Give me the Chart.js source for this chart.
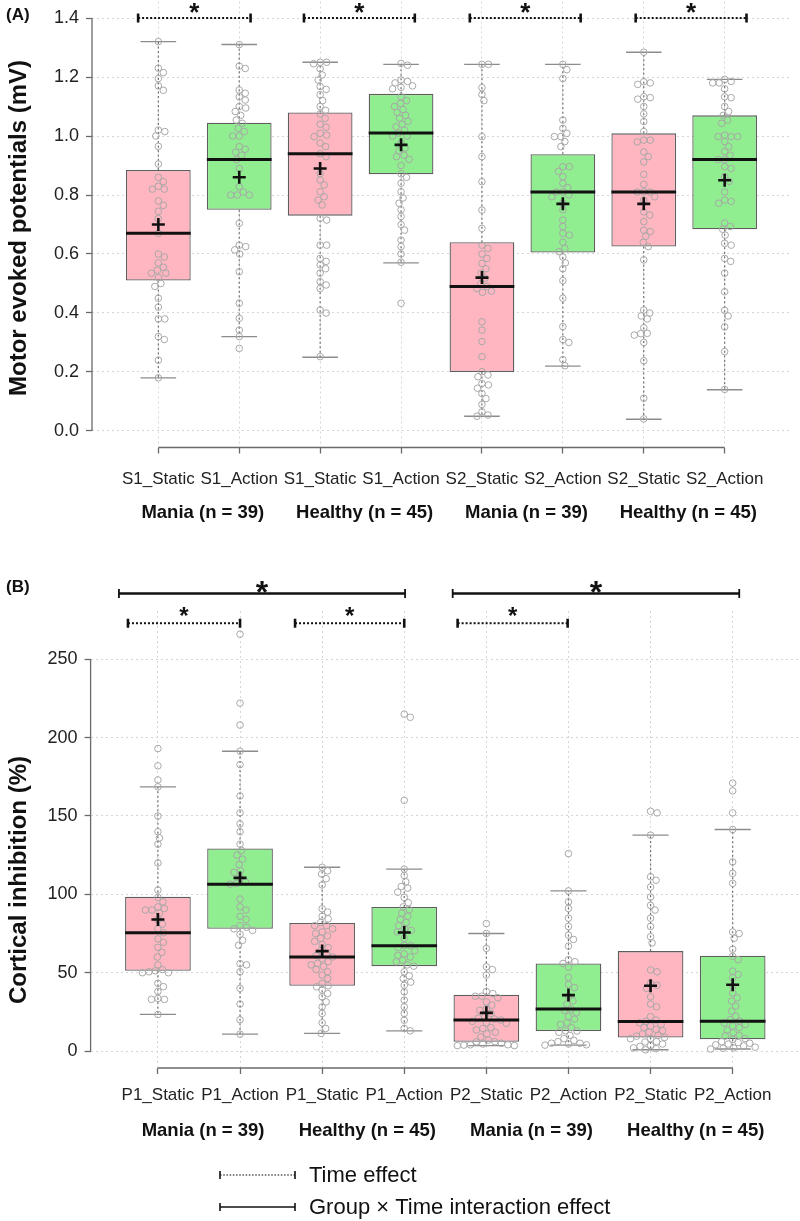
<!DOCTYPE html>
<html>
<head>
<meta charset="utf-8">
<script src="https://cdn.jsdelivr.net/npm/chart.js@4/dist/chart.umd.min.js"></script>
<style>
  html, body { margin: 0; padding: 0; background: #fff; width: 800px; height: 1221px; overflow: hidden; }
  canvas { position: absolute; left: 0; }
  #cA { top: 0; width: 800px; height: 560px; }
  #cB { top: 560px; width: 800px; height: 661px; }
</style>
</head>
<body>
<canvas id="cA" width="800" height="560"></canvas>
<canvas id="cB" width="800" height="661"></canvas>
<script>
// ---------------- Panel A : Motor evoked potentials (mV) ----------------
const mepCategories = ["S1_Static", "S1_Action", "S1_Static", "S1_Action", "S2_Static", "S2_Action", "S2_Static", "S2_Action"];
const mepGroups = ["Mania (n = 39)", "Healthy (n = 45)", "Mania (n = 39)", "Healthy (n = 45)"];
const mepLow    = [0.18, 0.32, 0.25, 0.57, 0.05, 0.22, 0.04, 0.14];
const mepQ1     = [0.51, 0.75, 0.73, 0.87, 0.20, 0.605, 0.625, 0.684];
const mepMedian = [0.67, 0.92, 0.94, 1.01, 0.49, 0.81, 0.81, 0.92];
const mepQ3     = [0.885, 1.045, 1.08, 1.143, 0.64, 0.938, 1.009, 1.07];
const mepHigh   = [1.32, 1.31, 1.25, 1.243, 1.243, 1.243, 1.284, 1.192];
const mepMean   = [0.70, 0.86, 0.89, 0.97, 0.52, 0.77, 0.77, 0.85];
const mepTicks  = [0, 0.2, 0.4, 0.6, 0.8, 1.0, 1.2, 1.4];
const mepPoints = [
  [1.32,1.23,1.215,1.195,1.17,1.155,1.02,1.015,1.0,0.965,0.905,0.86,0.845,0.83,0.82,0.82,0.78,0.765,0.745,0.72,0.67,0.60,0.59,0.57,0.555,0.545,0.535,0.535,0.52,0.50,0.49,0.45,0.42,0.38,0.38,0.32,0.31,0.24,0.18],
  [1.31,1.237,1.229,1.156,1.145,1.133,1.122,1.10,1.095,1.083,1.07,1.054,1.043,1.026,1.015,1.0,1.0,0.964,0.955,0.945,0.935,0.92,0.89,0.828,0.81,0.80,0.80,0.80,0.704,0.63,0.625,0.614,0.60,0.54,0.433,0.382,0.342,0.32,0.28],
  [1.25,1.25,1.245,1.228,1.207,1.19,1.168,1.158,1.14,1.12,1.1,1.087,1.075,1.06,1.04,1.03,1.009,1.003,0.998,0.976,0.964,0.94,0.93,0.873,0.851,0.834,0.811,0.794,0.783,0.766,0.721,0.715,0.63,0.63,0.585,0.575,0.563,0.55,0.535,0.506,0.495,0.483,0.41,0.40,0.252],
  [1.246,1.24,1.19,1.185,1.18,1.17,1.165,1.16,1.133,1.12,1.11,1.1,1.09,1.08,1.07,1.06,1.05,1.04,1.031,1.02,1.01,1.0,1.0,0.976,0.959,0.95,0.935,0.93,0.921,0.90,0.872,0.86,0.84,0.811,0.79,0.772,0.75,0.727,0.70,0.681,0.647,0.625,0.60,0.572,0.433],
  [1.243,1.243,1.164,1.141,1.12,0.998,0.93,0.845,0.749,0.687,0.63,0.619,0.6,0.585,0.568,0.55,0.535,0.518,0.5,0.49,0.483,0.474,0.47,0.37,0.342,0.303,0.252,0.201,0.19,0.184,0.161,0.156,0.145,0.127,0.11,0.09,0.065,0.054,0.05],
  [1.243,1.225,1.195,1.054,1.026,1.009,0.998,0.998,0.981,0.964,0.896,0.896,0.88,0.862,0.84,0.825,0.81,0.81,0.80,0.794,0.772,0.75,0.715,0.693,0.67,0.664,0.64,0.619,0.608,0.59,0.57,0.55,0.51,0.45,0.354,0.31,0.30,0.242,0.221],
  [1.284,1.184,1.18,1.175,1.133,1.13,1.125,1.1,1.075,1.049,1.015,0.986,0.986,0.98,0.946,0.93,0.912,0.87,0.836,0.81,0.81,0.811,0.794,0.783,0.743,0.732,0.71,0.681,0.676,0.66,0.64,0.625,0.58,0.41,0.40,0.39,0.38,0.35,0.331,0.33,0.325,0.30,0.238,0.111,0.041],
  [1.192,1.185,1.18,1.18,1.16,1.133,1.13,1.1,1.083,1.07,1.054,1.043,1.003,0.998,0.998,0.998,0.981,0.964,0.947,0.935,0.92,0.92,0.896,0.89,0.862,0.846,0.81,0.783,0.778,0.772,0.705,0.693,0.684,0.664,0.636,0.63,0.585,0.575,0.535,0.472,0.409,0.39,0.353,0.269,0.141]
];
// significance brackets: [from, to] in category units
const mepTimeEffect = [[0.75, 2.14], [2.8, 4.17], [4.85, 6.22], [6.9, 8.27]];
const mepTimeLevel = 1.4;
const mepTimeStar = 1.44;

// ---------------- Panel B : Cortical inhibition (%) ----------------
const ciCategories = ["P1_Static", "P1_Action", "P1_Static", "P1_Action", "P2_Static", "P2_Action", "P2_Static", "P2_Action"];
const ciGroups = ["Mania (n = 39)", "Healthy (n = 45)", "Mania (n = 39)", "Healthy (n = 45)"];
const ciLow    = [23.4, 10.8, 11.3, 12.9, 3.5, 3.8, 0.8, 1.3];
const ciQ1     = [51.2, 78.0, 41.7, 54.2, 5.9, 12.8, 8.7, 7.5];
const ciMedian = [75.5, 106.5, 60.1, 67.2, 19.8, 26.8, 18.9, 19.1];
const ciQ3     = [98.4, 129.3, 81.8, 92.0, 35.9, 55.9, 63.8, 60.8];
const ciHigh   = [168.6, 191.3, 117.3, 116.1, 75.0, 102.2, 137.8, 141.4];
const ciMean   = [84.0, 110.5, 63.8, 75.7, 24.4, 35.7, 41.7, 42.3];
const ciTicks  = [0, 50, 100, 150, 200, 250];
const ciPoints = [
  [193,182,173,168.6,150,140,136,132,120,102.7,98,95.2,92,91,90,90,88,84,81,78,75.5,71.6,69.4,66.2,63,60,55,52,51.2,50.6,50,50,43.2,41.1,38,33.6,33,33,23.4],
  [266,222,208,191.3,182.8,162.8,152,145,140,132,128,125,122.5,119,115,114,110.5,108,107,106.5,97,92,90,86,84,80,79,78,77,74.5,70.7,67.5,55.8,55,50.6,40,30,20,10.8],
  [117.3,115,113,110,106,90.8,88.7,86,84.4,82,80,80,78,76,75,73.5,72,70,68,66,64,62,61,60.1,59,57,56,55,54,52,50.6,48.5,46.3,43.2,41.7,41,38.9,36.7,34.6,31.4,28.2,24,18,14.4,11.3],
  [215,213,160,116.1,112,108,105,104,101.4,98,94.7,92,90.2,88,86,84,82,80,78,77,76,72,67.5,67.2,66,64,62,61,60,58,57,55,54.2,50.6,48,46.3,44,42,37.8,32.5,28.2,24,19.7,14.4,12.9],
  [81.4,75,65.5,53.8,52,48.5,38,36.7,35,35,34,31.4,29.3,27,26,24,22,21,20.5,19.8,19,18,17.7,15,14.4,13.5,12,11,9,7,6,5.9,5,4.5,4,4,3.8,3.5,3.5],
  [126,102.2,95.2,91,84.8,79.5,74,71.2,67,58.3,57,55.9,53.5,47,42.5,40.5,35,32,30,26.8,26,24.5,22,20.4,18,17,15,13,12.8,12,10,8,6.8,6,5,5,4.5,4,3.8],
  [153,152,137.8,111.2,109,104.7,98.3,93,90,84.8,79.5,73,69,51.8,50.6,43.2,42,40,34.6,30,28.2,22,19.8,19,18,17,16,15,13.9,13,12,11,10,9.5,8.7,8,7.9,6,5.8,4.5,3.6,3,2,1.5,0.8],
  [171,166,152,141.4,120.7,113.4,107,76,75,72,65,60.5,58.3,51,48.8,46.7,41.4,37.1,34,31.9,28.7,25.5,19.1,22.3,20,18,17,16,15,13.5,11.7,10,9.6,8,7.5,6,5.4,5,4.5,4,3.3,2.5,2,1.8,1.3]
];
const ciTimeEffect = [[0.635, 2.0], [2.67, 4.0], [4.65, 5.99]];
const ciTimeLevel = 273;
const ciTimeStar = 281;
const ciInteraction = [[0.525, 4.01], [4.59, 8.08]];
const ciInteractionLevel = 292;
const ciInteractionStar = 297.5;

// ---------------- styling / drawing ----------------
const FONT = '"Liberation Sans", Arial, Helvetica, sans-serif';
const PINK = '#FFB6C1';
const GREEN = '#90EE90';

function seg(ctx, x1, y1, x2, y2) {
  ctx.beginPath(); ctx.moveTo(x1, y1); ctx.lineTo(x2, y2); ctx.stroke();
}

function drawBracket(ctx, x1, x2, y, dotted, lw, capH, capW) {
  ctx.save();
  ctx.strokeStyle = '#111';
  ctx.lineWidth = lw;
  ctx.setLineDash(dotted ? [2, 2] : []);
  seg(ctx, x1, y, x2, y);
  ctx.setLineDash([]);
  ctx.lineWidth = capW;
  seg(ctx, x1, y - capH / 2, x1, y + capH / 2);
  seg(ctx, x2, y - capH / 2, x2, y + capH / 2);
  ctx.restore();
}

function drawStar(ctx, x, yc, size) {
  ctx.save();
  ctx.fillStyle = '#111';
  ctx.font = 'bold ' + size + 'px ' + FONT;
  ctx.textAlign = 'center';
  ctx.textBaseline = 'alphabetic';
  ctx.fillText('*', x, yc + 0.57 * size);
  ctx.restore();
}

function extrasPlugin(P, L) {
  return {
    id: 'boxExtras',
    afterDatasetDraw(chart, args) {
      if (args.index !== 0) return;
      const ctx = chart.ctx, xs = chart.scales.x, ys = chart.scales.y;
      ctx.save();
      P.low.forEach((lo, i) => {
        const x = xs.getPixelForValue(i + 1);
        ctx.strokeStyle = '#707070';
        ctx.lineWidth = 1.2;
        ctx.setLineDash([2, 2.5]);
        seg(ctx, x, ys.getPixelForValue(P.q3[i]), x, ys.getPixelForValue(P.high[i]));
        seg(ctx, x, ys.getPixelForValue(P.q1[i]), x, ys.getPixelForValue(lo));
        ctx.setLineDash([]);
        ctx.strokeStyle = '#8c8c8c';
        ctx.lineWidth = 1.4;
        const xa = xs.getPixelForValue(i + 1 - 0.22), xb = xs.getPixelForValue(i + 1 + 0.22);
        seg(ctx, xa, ys.getPixelForValue(P.high[i]), xb, ys.getPixelForValue(P.high[i]));
        seg(ctx, xa, ys.getPixelForValue(lo), xb, ys.getPixelForValue(lo));
      });
      ctx.restore();
    },
    afterDatasetsDraw(chart) {
      const ctx = chart.ctx, xs = chart.scales.x, ys = chart.scales.y;
      ctx.save();
      ctx.strokeStyle = '#111';
      ctx.lineWidth = 3;
      P.median.forEach((m, i) => {
        const y = ys.getPixelForValue(m);
        seg(ctx, xs.getPixelForValue(i + 1 - 0.4), y, xs.getPixelForValue(i + 1 + 0.4), y);
      });
      ctx.restore();
    },
    afterDraw(chart) {
      const ctx = chart.ctx, xs = chart.scales.x, ys = chart.scales.y, area = chart.chartArea;
      ctx.save();
      // R-style axis lines
      ctx.strokeStyle = '#6a6a6a';
      ctx.lineWidth = 1.3;
      seg(ctx, area.left, ys.getPixelForValue(P.ticks[0]), area.left, ys.getPixelForValue(P.ticks[P.ticks.length - 1]));
      seg(ctx, xs.getPixelForValue(1), area.bottom, xs.getPixelForValue(P.categories.length), area.bottom);
      // group labels
      ctx.fillStyle = '#111';
      ctx.font = 'bold 18.5px ' + FONT;
      ctx.textAlign = 'center';
      ctx.textBaseline = 'middle';
      P.groups.forEach((g, k) => {
        ctx.fillText(g, xs.getPixelForValue(2 * k + 1.55), area.bottom + L.groupDy);
      });
      // panel letter
      ctx.font = 'bold 17px ' + FONT;
      ctx.textAlign = 'left';
      ctx.fillText(L.letter, 6, L.letterY);
      // y title
      ctx.save();
      ctx.translate(L.titleX, L.titleY);
      ctx.rotate(-Math.PI / 2);
      ctx.textAlign = 'center';
      ctx.font = 'bold 24px ' + FONT;
      ctx.fillText(L.title, 0, 0);
      ctx.restore();
      // brackets
      P.brackets.forEach(b => {
        b.spans.forEach(([a, c]) => {
          const x1 = xs.getPixelForValue(a), x2 = xs.getPixelForValue(c);
          drawBracket(ctx, x1, x2, ys.getPixelForValue(b.level), b.dotted, b.dotted ? 2 : 2.4, 9, b.dotted ? 2.6 : 1.8);
          drawStar(ctx, (x1 + x2) / 2, ys.getPixelForValue(b.star), b.starSize);
        });
      });
      // legend
      if (L.legend) {
        const lx1 = 220, lx2 = 295;
        ctx.save();
        ctx.strokeStyle = '#111';
        ctx.lineWidth = 1.2;
        ctx.setLineDash([1.6, 1.6]);
        seg(ctx, lx1, L.legendY1, lx2, L.legendY1);
        ctx.setLineDash([]);
        ctx.lineWidth = 1.6;
        seg(ctx, lx1, L.legendY1 - 4, lx1, L.legendY1 + 4);
        seg(ctx, lx2, L.legendY1 - 4, lx2, L.legendY1 + 4);
        ctx.lineWidth = 1.4;
        seg(ctx, lx1, L.legendY2, lx2, L.legendY2);
        ctx.lineWidth = 1.6;
        seg(ctx, lx1, L.legendY2 - 4, lx1, L.legendY2 + 4);
        seg(ctx, lx2, L.legendY2 - 4, lx2, L.legendY2 + 4);
        ctx.restore();
        ctx.fillStyle = '#111';
        ctx.font = '22px ' + FONT;
        ctx.textAlign = 'left';
        ctx.textBaseline = 'middle';
        ctx.fillText('Time effect', 309, L.legendY1 + 1);
        ctx.fillText('Group \u00d7 Time interaction effect', 309, L.legendY2 + 1);
      }
      ctx.restore();
    }
  };
}

function swarm(chart, groups) {
  const xs = chart.scales.x, ys = chart.scales.y, D = 6.4;
  const out = [];
  groups.forEach((vals, i) => {
    const cx = xs.getPixelForValue(i + 1), placed = [];
    vals.slice().sort((a, b) => b - a).forEach(v => {
      const py = ys.getPixelForValue(v);
      let px = cx;
      for (let k = 0; k < 200; k++) {
        const off = (k % 2 ? 1 : -1) * Math.ceil(k / 2) * 0.5;
        const tx = cx + off;
        if (placed.every(p => (p[0] - tx) * (p[0] - tx) + (p[1] - py) * (p[1] - py) >= D * D)) { px = tx; break; }
      }
      placed.push([px, py]);
      out.push({ x: xs.getValueForPixel(px), y: v });
    });
  });
  return out;
}

function makeChart(id, P, L) {
  const boxColors = P.categories.map((c, i) => (i % 2 === 0 ? PINK : GREEN));
  const gridOpts = { offset: false, color: '#d6d6d6', lineWidth: 1, drawTicks: true, tickLength: 6,
                     tickColor: '#6a6a6a', tickWidth: 1.3, tickBorderDash: [] };
  const X_AXIS_H = 52;
  const chart = new Chart(document.getElementById(id), {
    type: 'bar',
    data: {
      datasets: [
        { type: 'bar', data: P.q1.map((q, i) => ({ x: i + 1, y: [q, P.q3[i]] })),
          backgroundColor: boxColors, borderColor: '#5e5e5e', borderWidth: 1.3, borderSkipped: false,
          barPercentage: 0.8, categoryPercentage: 1, order: 3 },
        { type: 'scatter', data: P.points.flatMap((vals, i) => vals.map(v => ({ x: i + 1, y: v }))),
          pointStyle: 'circle', pointRadius: 3.3, pointBorderWidth: 1, pointBorderColor: '#a8a8a8',
          pointBackgroundColor: 'rgba(0,0,0,0)', order: 2 },
        { type: 'scatter', data: P.mean.map((m, i) => ({ x: i + 1, y: m })),
          pointStyle: 'cross', pointRadius: 6.5, pointBorderWidth: 2.6, pointBorderColor: '#111', order: 1 }
      ]
    },
    options: {
      responsive: false, animation: false, devicePixelRatio: 1,
      layout: { autoPadding: false, padding: { left: 0, right: L.right, top: L.top, bottom: L.bottom - X_AXIS_H } },
      plugins: { legend: { display: false }, tooltip: { enabled: false } },
      scales: {
        x: {
          type: 'linear', min: 0.18, max: 8.82, offset: false,
          afterBuildTicks: s => { s.ticks = P.categories.map((c, i) => ({ value: i + 1 })); },
          afterFit: s => { s.height = X_AXIS_H; s.paddingLeft = 0; s.paddingRight = 0; },
          ticks: { autoSkip: false, maxRotation: 0, minRotation: 0, padding: L.xLabelPad, color: '#222',
                   font: { family: FONT, size: 17 }, callback: (v, i) => P.categories[i] },
          grid: gridOpts,
          border: { display: false, dash: [2, 3] }
        },
        y: {
          type: 'linear', min: L.yMin, max: L.yMax,
          afterBuildTicks: s => { s.ticks = P.ticks.map(v => ({ value: v })); },
          afterFit: s => { s.width = L.left; s.paddingTop = 0; s.paddingBottom = 0; },
          ticks: { padding: 7, color: '#222', font: { family: FONT, size: 18 }, callback: v => L.fmt(v) },
          grid: gridOpts,
          border: { display: false, dash: [2, 3] }
        }
      }
    },
    plugins: [extrasPlugin(P, L)]
  });
  chart.data.datasets[1].data = swarm(chart, P.points);
  chart.update('none');
  return chart;
}

makeChart('cA', {
  categories: mepCategories, groups: mepGroups, low: mepLow, q1: mepQ1, median: mepMedian,
  q3: mepQ3, high: mepHigh, mean: mepMean, points: mepPoints, ticks: mepTicks,
  brackets: [{ spans: mepTimeEffect, level: mepTimeLevel, star: mepTimeStar, dotted: true, starSize: 26 }]
}, {
  left: 92, right: 9, top: 1.5, bottom: 112.5,
  yMin: -0.056, yMax: 1.456, fmt: v => v.toFixed(1), xLabelPad: 16,
  groupDy: 65.5, letter: '(A)', letterY: 15, title: 'Motor evoked potentials (mV)', titleX: 19, titleY: 228,
  legend: false
});

makeChart('cB', {
  categories: ciCategories, groups: ciGroups, low: ciLow, q1: ciQ1, median: ciMedian,
  q3: ciQ3, high: ciHigh, mean: ciMean, points: ciPoints, ticks: ciTicks,
  brackets: [
    { spans: ciTimeEffect, level: ciTimeLevel, star: ciTimeStar, dotted: true, starSize: 24 },
    { spans: ciInteraction, level: ciInteractionLevel, star: ciInteractionStar, dotted: false, starSize: 32 }
  ]
}, {
  left: 90.6, right: 0, top: 51, bottom: 153,
  yMin: -10.8, yMax: 280.8, fmt: v => String(v), xLabelPad: 11.5,
  groupDy: 63, letter: '(B)', letterY: 27.5, title: 'Cortical inhibition (%)', titleX: 19, titleY: 320,
  legend: true, legendY1: 615, legendY2: 647
});
</script>
</body>
</html>
